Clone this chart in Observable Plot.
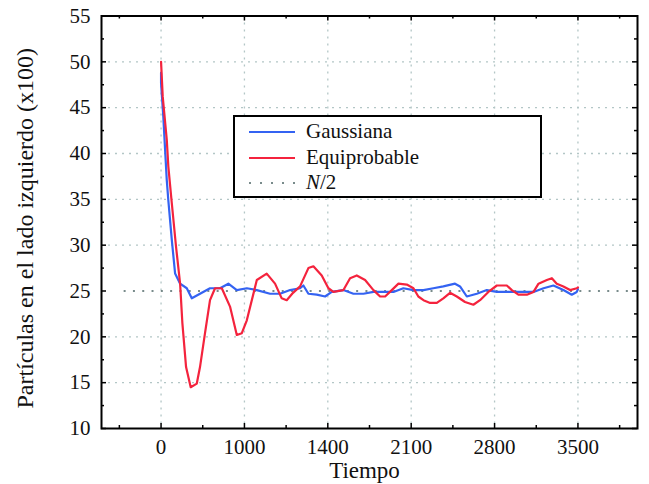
<!DOCTYPE html>
<html>
<head>
<meta charset="utf-8">
<script src="https://cdn.jsdelivr.net/npm/d3@7"></script>
<script src="https://cdn.jsdelivr.net/npm/@observablehq/plot@0.6"></script>
<style>
  html, body { margin: 0; padding: 0; background: white; }
  #wrap { position: relative; width: 649px; height: 484px; font-family: "Liberation Serif", "Times New Roman", serif; }
  #legend { position: absolute; left: 233px; top: 115px; width: 309px; height: 83px; box-sizing: border-box;
            border: 2px solid #000; background: #fff; }
  .row { position: absolute; left: 0; height: 24px; display: flex; align-items: center; font-size: 21px; color: #111; white-space: nowrap; }
  .row svg { margin-left: 14px; margin-right: 11px; }
</style>
</head>
<body>
<div id="wrap"></div>
<script>
// ---- data ----
const tBlue = [0, 0, 19, 34, 48, 61, 90, 118, 160, 216, 258, 327, 411, 495, 565, 636, 720, 804, 915, 999, 1083, 1167, 1195, 1237, 1307, 1377, 1433, 1531, 1615, 1699, 1783, 1867, 1951, 2034, 2119, 2203, 2286, 2370, 2468, 2510, 2567, 2651, 2735, 2819, 2930, 3042, 3127, 3211, 3294, 3378, 3448, 3490, 3500];
const vBlue = [48.8, 47.7, 44.0, 40.4, 37.1, 34.9, 30.6, 26.9, 25.8, 25.3, 24.2, 24.7, 25.3, 25.3, 25.8, 25.1, 25.3, 25.1, 24.7, 24.7, 25.1, 25.3, 25.6, 24.7, 24.6, 24.4, 24.9, 25.1, 24.7, 24.7, 24.9, 24.9, 24.9, 25.3, 25.1, 25.1, 25.3, 25.5, 25.8, 25.5, 24.4, 24.7, 25.1, 24.9, 24.9, 24.9, 24.9, 25.3, 25.6, 25.1, 24.6, 24.9, 25.2];

const tRed = [0, 14, 48, 61, 90, 126, 160, 179, 210, 249, 300, 327, 369, 411, 453, 510, 579, 636, 678, 720, 804, 887, 957, 1013, 1055, 1108, 1167, 1237, 1279, 1349, 1405, 1447, 1531, 1587, 1643, 1713, 1783, 1839, 1881, 1937, 1993, 2063, 2119, 2160, 2203, 2259, 2315, 2370, 2426, 2483, 2552, 2622, 2678, 2748, 2819, 2903, 2945, 3000, 3071, 3127, 3169, 3239, 3281, 3322, 3378, 3434, 3490, 3500];
const vRed = [50.0, 46.2, 41.5, 38.6, 34.6, 29.8, 25.8, 21.5, 16.7, 14.5, 14.9, 16.7, 20.4, 24.0, 25.3, 25.3, 23.3, 20.2, 20.4, 21.8, 26.2, 26.9, 25.8, 24.2, 24.0, 24.8, 25.5, 27.5, 27.7, 26.7, 25.3, 24.9, 25.1, 26.4, 26.7, 26.2, 25.1, 24.4, 24.4, 25.1, 25.8, 25.7, 25.3, 24.4, 24.0, 23.7, 23.7, 24.2, 24.8, 24.4, 23.8, 23.5, 24.0, 24.9, 25.6, 25.6, 25.1, 24.6, 24.6, 24.9, 25.8, 26.2, 26.4, 25.8, 25.5, 25.1, 25.3, 25.4];

const n2Value = 25;
const n2Range = [-310, 3940];

const xMajor = [0, 700, 1400, 2100, 2800, 3500];
const xTickLabels = ["0", "1000", "1400", "2100", "2800", "3500"];
const xMinor = [-350, 350, 1050, 1750, 2450, 3150, 3850];
const yMajor = [10, 15, 20, 25, 30, 35, 40, 45, 50, 55];
const yMinor = [12.5, 17.5, 22.5, 27.5, 32.5, 37.5, 42.5, 47.5, 52.5];
const yGrid = [15, 20, 30, 35, 40, 45, 50];

const seriesNames = ["Gaussiana", "Equiprobable", "N/2"];
const xLabel = "Tiempo";
const yLabel = "Partículas en el lado izquierdo (x100)";

// ---- layout ----
const W = 649, H = 484;
const mL = 101, mR = 12, mT = 15.5, mB = 56;
const plotW = W - mL - mR, plotH = H - mT - mB;
const BLUE = "#3463f2", RED = "#f4233d", N2 = "#4d6666", GRID = "#b3c6c6";

const blue = tBlue.map((t, i) => ({t, v: vBlue[i]}));
const red = tRed.map((t, i) => ({t, v: vRed[i]}));

const chart = Plot.plot({
  width: W, height: H,
  marginLeft: mL, marginRight: mR, marginTop: mT, marginBottom: mB,
  style: {fontFamily: "'Liberation Serif', 'Times New Roman', serif", fontSize: "21px", background: "white", color: "#111"},
  x: {domain: [-500, 4000]},
  y: {domain: [10, 55]},
  marks: [
    Plot.gridX(xMajor, {stroke: GRID, strokeOpacity: 1, strokeWidth: 1.3, strokeDasharray: "2,5"}),
    Plot.gridY(yGrid, {stroke: GRID, strokeOpacity: 1, strokeWidth: 1.3, strokeDasharray: "2,5"}),
    Plot.ruleY([n2Value], {x1: n2Range[0], x2: n2Range[1], stroke: N2, strokeWidth: 1.6, strokeDasharray: "2,7.3"}),
    Plot.line(blue, {x: "t", y: "v", stroke: BLUE, strokeWidth: 2.2}),
    Plot.line(red, {x: "t", y: "v", stroke: RED, strokeWidth: 2.2}),
    // inward ticks on all four sides
    Plot.ruleX(xMajor, {insetTop: plotH - 5, stroke: "#000", strokeWidth: 1.5}),
    Plot.ruleX(xMinor, {insetTop: plotH - 3, stroke: "#000", strokeWidth: 1.5}),
    Plot.ruleX(xMajor, {insetBottom: plotH - 5, stroke: "#000", strokeWidth: 1.5}),
    Plot.ruleX(xMinor, {insetBottom: plotH - 3, stroke: "#000", strokeWidth: 1.5}),
    Plot.ruleY(yMajor, {insetRight: plotW - 5, stroke: "#000", strokeWidth: 1.5}),
    Plot.ruleY(yMinor, {insetRight: plotW - 3, stroke: "#000", strokeWidth: 1.5}),
    Plot.ruleY(yMajor, {insetLeft: plotW - 5, stroke: "#000", strokeWidth: 1.5}),
    Plot.ruleY(yMinor, {insetLeft: plotW - 3, stroke: "#000", strokeWidth: 1.5}),
    Plot.frame({stroke: "#000", strokeWidth: 2}),
    Plot.axisX(xMajor, {tickSize: 0, tickPadding: 11, fontSize: 21, label: null,
      tickFormat: d => xTickLabels[xMajor.indexOf(d)]}),
    Plot.axisY(yMajor, {tickSize: 0, tickPadding: 11, fontSize: 21, label: null}),
    Plot.text([xLabel], {frameAnchor: "bottom", lineAnchor: "top", dy: 33, dx: -5, fontSize: 23, fill: "#111"}),
    Plot.text([yLabel], {frameAnchor: "left", rotate: -90, lineAnchor: "top", textAnchor: "middle", dx: -86, dy: 6, fontSize: 24, fill: "#111"})
  ]
});

const wrap = document.getElementById("wrap");
wrap.appendChild(chart);

// legend overlay (inside the plot area, as in the reference)
const legend = document.createElement("div");
legend.id = "legend";
const rows = [
  {name: seriesNames[0], color: BLUE, dash: null, top: 2.5},
  {name: seriesNames[1], color: RED, dash: null, top: 28.5},
  {name: seriesNames[2], color: N2, dash: "2,9", top: 53.5}
];
rows.forEach(r => {
  const row = document.createElement("div");
  row.className = "row";
  row.style.top = r.top + "px";
  const sw = d3.create("svg").attr("width", 46).attr("height", 24);
  sw.append("line").attr("x1", 0).attr("x2", 46).attr("y1", 12).attr("y2", 12)
    .attr("stroke", r.color).attr("stroke-width", r.dash ? 1.6 : 2.2)
    .attr("stroke-dasharray", r.dash);
  row.appendChild(sw.node());
  const label = document.createElement("span");
  if (r.name === "N/2") {
    label.innerHTML = "<i>N</i>/2";
  } else {
    label.textContent = r.name;
  }
  row.appendChild(label);
  legend.appendChild(row);
});
wrap.appendChild(legend);
</script>
</body>
</html>
